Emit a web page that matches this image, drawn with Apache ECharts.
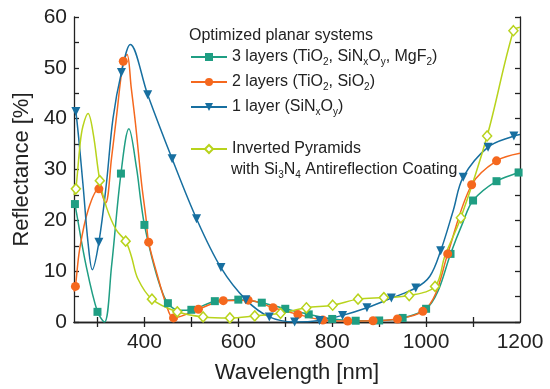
<!DOCTYPE html>
<html>
<head>
<meta charset="utf-8">
<script src="https://cdn.jsdelivr.net/npm/echarts@6/dist/echarts.min.js"></script>
<style>
  html, body { margin: 0; padding: 0; background: #fff; }
  #chart { width: 550px; height: 389px; }
</style>
</head>
<body>
<div id="chart"></div>
<script>
// [wavelength nm, reflectance %] — marks = points drawn with a symbol, curve = extra points of the line
const layers3Marks = [[252, 23.2], [300, 2.0], [350, 29.2], [400, 19.1], [450, 3.7], [500, 2.4], [550, 4.1], [600, 4.4], [650, 3.8], [700, 2.6], [750, 1.5], [800, 0.6], [850, 0.25], [900, 0.3], [950, 0.8], [1000, 2.6], [1052, 13.4], [1100, 23.9], [1150, 27.7], [1197, 29.4]];
const layers3Curve = [[250, 24], [276, 11], [315, 0], [330, 11], [367, 38], [383, 30.4], [393, 23.3], [415, 13], [433, 7.2], [475, 2.3], [1025, 6], [1078, 19.5], [1200, 29.6]];

const layers2Marks = [[253, 7.0], [303, 26.2], [355, 51.3], [409, 15.7], [462, 0.8], [515, 2.5], [568, 4.2], [621, 4.3], [674, 2.8], [727, 1.5], [780, 0.4], [833, 0.2], [887, 0.25], [939, 0.6], [993, 2.1], [1046, 13.4], [1097, 27.0], [1150, 31.7]];
const layers2Curve = [[250, 6], [262, 14.3], [280, 22], [317, 23.4], [330, 32.3], [340, 40], [363, 52.6], [372, 46], [381, 39], [394, 27.2], [403, 20.7], [426, 9.7], [447, 3.3], [1020, 5.5], [1200, 33.2]];

const layer1Marks = [[254, 41.4], [303, 15.7], [351, 49.1], [407, 44.7], [459, 32.1], [511, 20.3], [563, 10.7], [616, 4.4], [666, 1.0], [720, 0], [773, 0.3], [822, 1.3], [874, 2.8], [926, 4.7], [978, 6.7], [1031, 14.0], [1079, 28.5], [1132, 34.4], [1187, 36.6]];
const layer1Curve = [[250, 42], [269, 27.2], [280, 15.5], [289, 10.3], [319, 27.2], [333, 40], [370, 54.6], [1008, 9], [1058, 22], [1200, 36.9]];

const pyramidsMarks = [[254, 26.2], [305, 27.8], [360, 15.9], [416, 4.5], [470, 2.0], [525, 1.0], [582, 0.8], [635, 1.2], [690, 1.7], [745, 2.8], [801, 3.3], [855, 4.5], [910, 4.8], [964, 5.2], [1019, 7.0], [1074, 20.5], [1130, 36.6], [1186, 57.3]];
const pyramidsCurve = [[250, 25], [263, 35], [269, 38.5], [280, 41], [291, 37], [319, 22.6], [340, 18.1], [372, 13], [386, 8.5], [1040, 13], [1200, 58]];

const xLabelValues = [400, 600, 800, 1000, 1200];
const xTickValues = [300, 400, 500, 600, 700, 800, 900, 1000, 1100];

const colors = ['#1f9e83', '#f5681e', '#176fa0', '#b8d31c'];

// 合并曲线点和标记点
function buildLine(curve, marks) {
  const pts = curve.map(p => ({ value: p, symbol: 'none' }))
    .concat(marks.map(p => ({ value: p })));
  pts.sort((a, b) => a.value[0] - b.value[0]);
  return pts;
}

const legendNames = {
  '3 layers': '3 layers (TiO{s|2}, SiN{s|x}O{s|y}, MgF{s|2})',
  '2 layers': '2 layers (TiO{s|2}, SiO{s|2})',
  '1 layer': '1 layer (SiN{s|x}O{s|y})',
  'Inverted Pyramids': 'Inverted Pyramids'
};

const fontFamily = '"Liberation Sans", Arial, sans-serif';
const richText = {
  s: { fontSize: 10, fontFamily: fontFamily, color: '#222', verticalAlign: 'bottom', lineHeight: 20 }
};
const legendText = {
  fontSize: 16,
  fontFamily: fontFamily,
  color: '#222',
  lineHeight: 20,
  rich: richText
};

const chart = echarts.init(document.getElementById('chart'));

const axisLine = { show: true, lineStyle: { color: '#222', width: 1.3 } };

const option = {
  animation: false,
  color: colors,
  textStyle: { fontFamily: fontFamily },
  grid: { left: 74, right: 30, top: 17, bottom: 62 },
  title: {
    text: 'Optimized planar systems',
    left: 189,
    top: 28,
    padding: 0,
    textStyle: { fontSize: 16, fontWeight: 'normal', color: '#222', fontFamily: fontFamily }
  },
  legend: [
    {
      data: ['3 layers', '2 layers', '1 layer'],
      orient: 'vertical',
      left: 190,
      top: 47,
      padding: 0,
      itemGap: 5,
      itemWidth: 36,
      itemHeight: 10,
      formatter: name => legendNames[name],
      textStyle: legendText
    },
    {
      data: ['Inverted Pyramids'],
      orient: 'vertical',
      left: 190,
      top: 139,
      padding: 0,
      itemWidth: 36,
      itemHeight: 10,
      formatter: name => legendNames[name],
      textStyle: legendText
    }
  ],
  graphic: [
    {
      type: 'text',
      left: 231,
      top: 160,
      style: {
        text: 'with Si{s|3}N{s|4} Antireflection Coating',
        fontSize: 16,
        fontFamily: fontFamily,
        fill: '#222',
        lineHeight: 20,
        rich: richText
      }
    }
  ],
  xAxis: [
    {
      type: 'value',
      min: 250,
      max: 1200,
      position: 'bottom',
      name: 'Wavelength [nm]',
      nameLocation: 'middle',
      nameGap: 40,
      nameTextStyle: { fontSize: 22, color: '#222', fontFamily: fontFamily },
      axisLine: axisLine,
      axisTick: { show: true, inside: true, length: 5, customValues: xTickValues, lineStyle: { color: '#222', width: 1.3 } },
      axisLabel: { customValues: xLabelValues, fontSize: 21, color: '#222', margin: 10, formatter: v => String(v) },
      splitLine: { show: false }
    },
    {
      type: 'value',
      min: 250,
      max: 1200,
      position: 'top',
      axisLine: axisLine,
      axisTick: { show: true, inside: true, length: 5, customValues: xTickValues, lineStyle: { color: '#222', width: 1.3 } },
      axisLabel: { show: false },
      splitLine: { show: false }
    }
  ],
  yAxis: [
    {
      type: 'value',
      min: 0,
      max: 60,
      interval: 10,
      position: 'left',
      name: 'Reflectance [%]',
      nameLocation: 'middle',
      nameGap: 41,
      nameTextStyle: { fontSize: 22, color: '#222', fontFamily: fontFamily },
      axisLine: axisLine,
      axisTick: { show: true, inside: true, length: 5, lineStyle: { color: '#222', width: 1.3 } },
      minorTick: { show: true, splitNumber: 2, length: 5, lineStyle: { color: '#222', width: 1.3 } },
      axisLabel: { fontSize: 21, color: '#222', margin: 7 },
      splitLine: { show: false },
      minorSplitLine: { show: false }
    },
    {
      type: 'value',
      min: 0,
      max: 60,
      interval: 10,
      position: 'right',
      axisLine: axisLine,
      axisTick: { show: true, inside: true, length: 5, lineStyle: { color: '#222', width: 1.3 } },
      minorTick: { show: true, splitNumber: 2, length: 5, lineStyle: { color: '#222', width: 1.3 } },
      axisLabel: { show: false },
      splitLine: { show: false },
      minorSplitLine: { show: false }
    }
  ],
  series: [
    {
      name: '3 layers',
      type: 'line',
      smooth: 0.35,
      data: buildLine(layers3Curve, layers3Marks),
      symbol: 'rect',
      symbolSize: 8,
      showAllSymbol: true,
      lineStyle: { width: 1.5, color: colors[0] },
      itemStyle: { color: colors[0] }
    },
    {
      name: '2 layers',
      type: 'line',
      smooth: 0.35,
      data: buildLine(layers2Curve, layers2Marks),
      symbol: 'circle',
      symbolSize: 9,
      showAllSymbol: true,
      lineStyle: { width: 1.5, color: colors[1] },
      itemStyle: { color: colors[1] }
    },
    {
      name: '1 layer',
      type: 'line',
      smooth: 0.35,
      data: buildLine(layer1Curve, layer1Marks),
      symbol: 'triangle',
      symbolRotate: 180,
      symbolSize: 9,
      showAllSymbol: true,
      lineStyle: { width: 1.5, color: colors[2] },
      itemStyle: { color: colors[2] }
    },
    {
      name: 'Inverted Pyramids',
      type: 'line',
      smooth: 0.35,
      data: buildLine(pyramidsCurve, pyramidsMarks),
      symbol: 'diamond',
      symbolSize: [9, 10],
      showAllSymbol: true,
      lineStyle: { width: 1.5, color: colors[3] },
      itemStyle: { color: '#fff', borderColor: colors[3], borderWidth: 1.5 }
    }
  ]
};

chart.setOption(option);
</script>
</body>
</html>
